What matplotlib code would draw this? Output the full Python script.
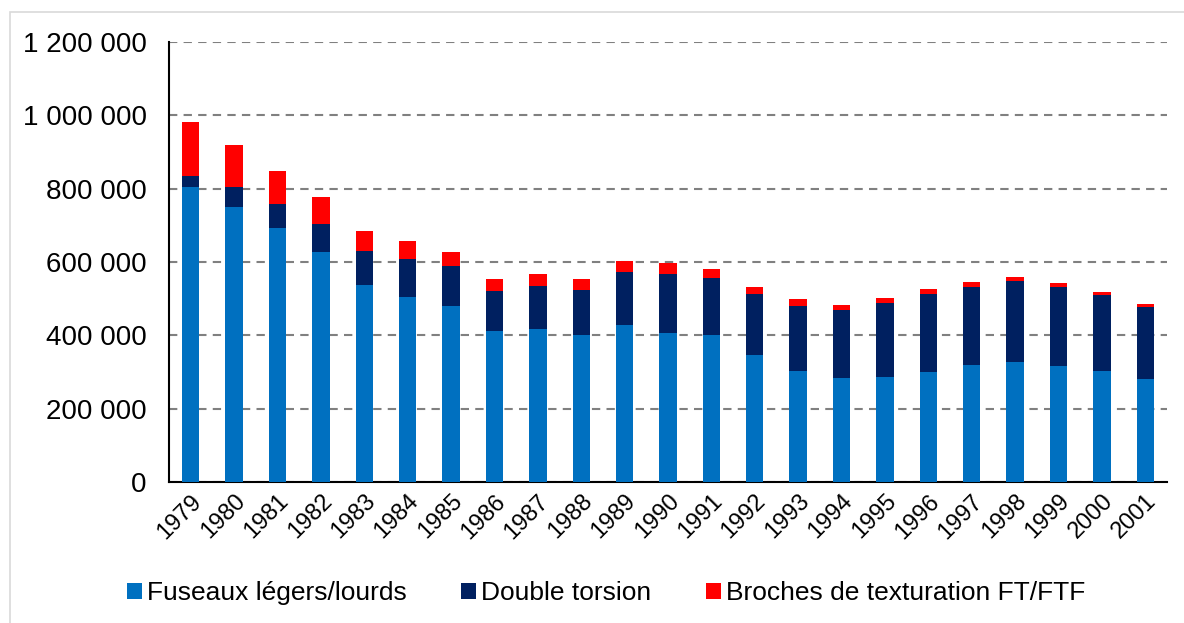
import matplotlib
matplotlib.use("Agg")
import matplotlib.pyplot as plt
from matplotlib.ticker import FuncFormatter, MultipleLocator
from matplotlib.patches import Rectangle, Patch

plt.rcParams['font.family'] = ['Liberation Sans', 'DejaVu Sans']

years = [str(y) for y in range(1979, 2002)]
fuseaux = [803600, 749000, 692000, 627000, 537000, 503700, 481000, 411000, 418000, 402000,
           428000, 406000, 400000, 345500, 302000, 282800, 285500, 299000, 318000, 326000,
           317000, 302000, 280000]
totals_dt = [835500, 805500, 758000, 704600, 630000, 607000, 589000, 521000, 534500, 523600,
             572700, 567000, 557000, 512000, 480000, 470000, 489000, 513700, 533000, 547000,
             532000, 511000, 476000]
totals_all = [981800, 918000, 849000, 776000, 684500, 656000, 628000, 554600, 566000, 553600,
              602000, 596400, 580000, 531000, 498000, 483800, 503000, 527000, 545000, 559000,
              542700, 519000, 484600]
double_torsion = [t - f for t, f in zip(totals_dt, fuseaux)]
broches = [a - t for a, t in zip(totals_all, totals_dt)]

series_names = ["Fuseaux légers/lourds", "Double torsion", "Broches de texturation FT/FTF"]
colors = ["#0070C0", "#002060", "#FF0000"]

W, H = 1184, 623
fig = plt.figure(figsize=(W / 100, H / 100), dpi=100)
ax = fig.add_axes([169 / W, 1 - 482 / H, (1167 - 169) / W, (482 - 42) / H])

x = list(range(len(years)))
bw = 0.4
ax.bar(x, fuseaux, width=bw, color=colors[0], zorder=3)
ax.bar(x, double_torsion, width=bw, bottom=fuseaux, color=colors[1], zorder=3)
ax.bar(x, broches, width=bw, bottom=totals_dt, color=colors[2], zorder=3)

ax.set_xlim(-0.5, len(years) - 0.5)
ax.set_ylim(0, 1200000)
ax.yaxis.set_major_locator(MultipleLocator(200000))
ax.yaxis.set_major_formatter(FuncFormatter(lambda v, p: f"{int(v):,}".replace(",", " ")))
ax.grid(axis='y', color='#808080', linestyle=(0, (4, 3)), linewidth=1.5, zorder=0)
ax.set_axisbelow(True)

for s in ['top', 'right']:
    ax.spines[s].set_visible(False)
ax.spines['left'].set_linewidth(1.5)
ax.spines['bottom'].set_linewidth(1.5)

ax.set_xticks(x)
ax.set_xticklabels(years, rotation=45, ha='right', rotation_mode='anchor', fontsize=17)
ax.tick_params(axis='x', length=0, pad=6)
ax.tick_params(axis='y', length=0, pad=16, labelsize=20)

handles = [Patch(facecolor=c, edgecolor='none') for c in colors]
fig.legend(handles, series_names, loc='center', bbox_to_anchor=(606 / W, 1 - 593 / H),
           ncol=3, frameon=False, fontsize=19, handlelength=0.57, handleheight=0.57,
           handletextpad=0.2, columnspacing=2.05)

fig.patches.append(Rectangle((10 / W, -0.1), 1.2, 1 - 12 / H + 0.1, transform=fig.transFigure,
                             fill=False, edgecolor='#D9D9D9', linewidth=1.2))

fig.savefig("out.png", dpi=100)
